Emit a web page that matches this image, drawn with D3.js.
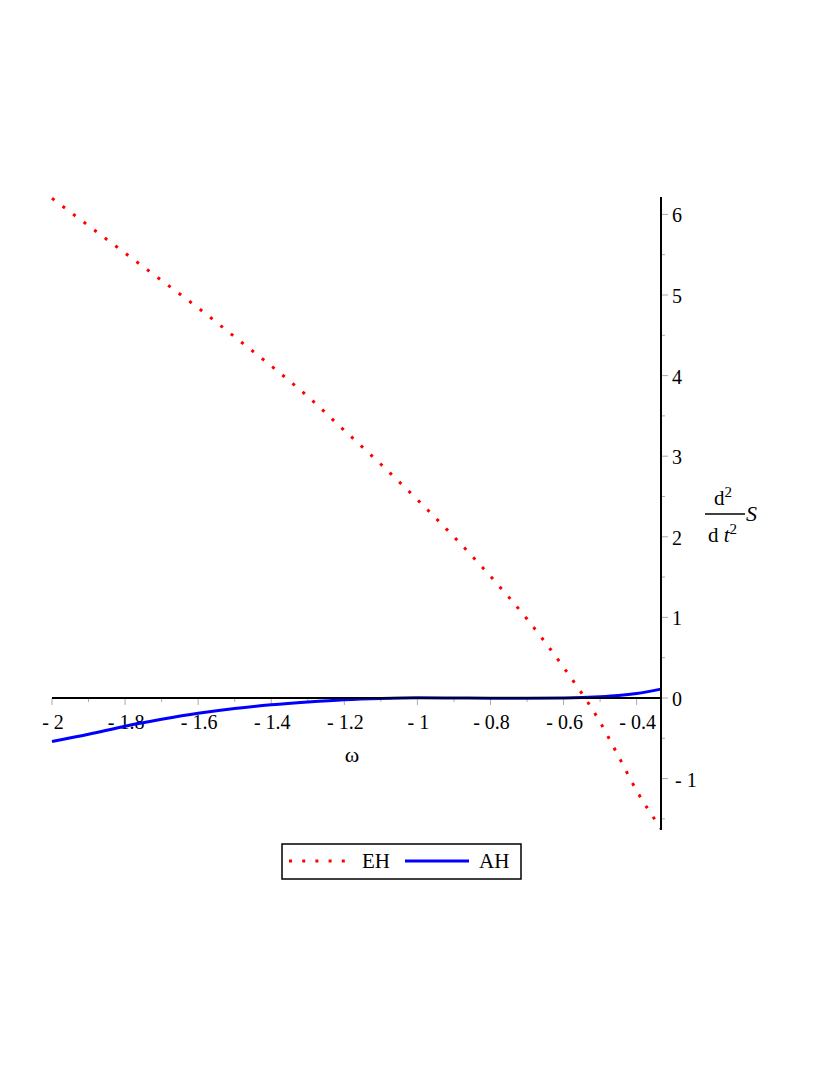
<!DOCTYPE html>
<html><head><meta charset="utf-8">
<script src="https://cdn.jsdelivr.net/npm/d3@7"></script>
<style>body{margin:0;background:#fff}svg{display:block}</style>
</head><body>
<script>
const omega = [-2, -1.9, -1.8, -1.7, -1.6, -1.5, -1.4, -1.3, -1.2, -1.1, -1.0, -0.9, -0.8, -0.7, -0.6, -0.5, -0.45, -0.4, -1/3];
const EH = [6.20, 5.86, 5.52, 5.18, 4.84, 4.48, 4.12, 3.74, 3.32, 2.90, 2.46, 2.00, 1.51, 0.98, 0.38, -0.30, -0.72, -1.15, -1.62];
const AH = [-0.54, -0.45, -0.35, -0.265, -0.19, -0.13, -0.085, -0.05, -0.022, -0.006, 0.002, 0.0, -0.003, -0.003, 0.0, 0.015, 0.03, 0.055, 0.11];
const xMajor = [-2, -1.8, -1.6, -1.4, -1.2, -1, -0.8, -0.6, -0.4];
const xMinor = [-1.9, -1.7, -1.5, -1.3, -1.1, -0.9, -0.7, -0.5];
const yMajor = [-1, 0, 1, 2, 3, 4, 5, 6];
const yMinor = [-1.5, -0.5, 0.5, 1.5, 2.5, 3.5, 4.5, 5.5];
const seriesNames = ["EH", "AH"];

const W = 830, H = 1075;
const svg = d3.select("body").append("svg").attr("width", W).attr("height", H)
  .style("font-family", "'Liberation Serif','Times New Roman',serif");

const x = d3.scaleLinear().domain([-2, -1/3]).range([52, 661]);
const y = d3.scaleLinear().domain([-1.638, 6.216]).range([830, 197]);

const fmt = v => {
  const s = String(+v.toFixed(1));
  return s.startsWith("-") ? "- " + s.slice(1) : s;
};

const line = d3.line().curve(d3.curveMonotoneX);
const ehPts = omega.map((o, i) => [x(o), y(EH[i])]);
const ahPts = omega.map((o, i) => [x(o), y(AH[i])]);

const g = svg.append("g");
g.selectAll(".xt").data(xMajor).enter().append("line")
  .attr("x1", d => x(d)).attr("x2", d => x(d)).attr("y1", y(0)).attr("y2", y(0) + 7)
  .attr("stroke", "#aaa").attr("stroke-width", 1);
g.selectAll(".xm").data(xMinor).enter().append("line")
  .attr("x1", d => x(d)).attr("x2", d => x(d)).attr("y1", y(0)).attr("y2", y(0) + 4)
  .attr("stroke", "#aaa").attr("stroke-width", 1);
g.selectAll(".xl").data(xMajor).enter().append("text")
  .attr("x", d => x(d) + 1).attr("y", y(0) + 31).attr("text-anchor", "middle")
  .attr("font-size", 20).text(fmt);

g.selectAll(".yt").data(yMajor).enter().append("line")
  .attr("x1", x(-1/3)).attr("x2", x(-1/3) + 7).attr("y1", d => y(d)).attr("y2", d => y(d))
  .attr("stroke", "#aaa").attr("stroke-width", 1);
g.selectAll(".ym").data(yMinor).enter().append("line")
  .attr("x1", x(-1/3)).attr("x2", x(-1/3) + 4).attr("y1", d => y(d)).attr("y2", d => y(d))
  .attr("stroke", "#aaa").attr("stroke-width", 1);
g.selectAll(".yl").data(yMajor).enter().append("text")
  .attr("x", d => d < 0 ? x(-1/3) + 14 : x(-1/3) + 11).attr("y", d => y(d) + 8)
  .attr("font-size", 20).text(fmt);

svg.append("path").attr("d", line(ahPts)).attr("fill", "none")
  .attr("stroke", "#0000ff").attr("stroke-width", 3);
svg.append("path").attr("d", line(ehPts)).attr("fill", "none")
  .attr("stroke", "#ff0000").attr("stroke-width", 3).attr("stroke-dasharray", "3,10.2");

svg.append("line").attr("x1", x(-2)).attr("x2", x(-1/3)).attr("y1", y(0)).attr("y2", y(0))
  .attr("stroke", "#000").attr("stroke-width", 2);
svg.append("line").attr("x1", x(-1/3)).attr("x2", x(-1/3)).attr("y1", y(6.216)).attr("y2", y(-1.638))
  .attr("stroke", "#000").attr("stroke-width", 2);

svg.append("text").attr("x", 352).attr("y", 762).attr("text-anchor", "middle")
  .attr("font-size", 22).text("ω");
const lab = svg.append("g");
lab.append("text").attr("x", 714).attr("y", 505).attr("font-size", 21)
  .html('d<tspan dy="-8" font-size="15">2</tspan>');
lab.append("line").attr("x1", 705).attr("x2", 745).attr("y1", 514).attr("y2", 514)
  .attr("stroke", "#000").attr("stroke-width", 1.5);
lab.append("text").attr("x", 708).attr("y", 542).attr("font-size", 21)
  .html('d <tspan font-style="italic">t</tspan><tspan dy="-8" font-size="15">2</tspan>');
lab.append("text").attr("x", 746).attr("y", 521).attr("font-size", 22)
  .attr("font-style", "italic").text("S");

const leg = svg.append("g");
leg.append("rect").attr("x", 282).attr("y", 844).attr("width", 239).attr("height", 35)
  .attr("fill", "#fff").attr("stroke", "#000").attr("stroke-width", 1.5);
const legItems = [
  {name: seriesNames[0], color: "#ff0000", dash: "3,10.2", x0: 289, x1: 348, tx: 362},
  {name: seriesNames[1], color: "#0000ff", dash: null, x0: 405, x1: 469, tx: 479}
];
legItems.forEach(it => {
  leg.append("line").attr("x1", it.x0).attr("x2", it.x1).attr("y1", 861).attr("y2", 861)
    .attr("stroke", it.color).attr("stroke-width", 3)
    .attr("stroke-dasharray", it.dash);
  leg.append("text").attr("x", it.tx).attr("y", 868).attr("font-size", 21).text(it.name);
});
</script>
</body></html>
